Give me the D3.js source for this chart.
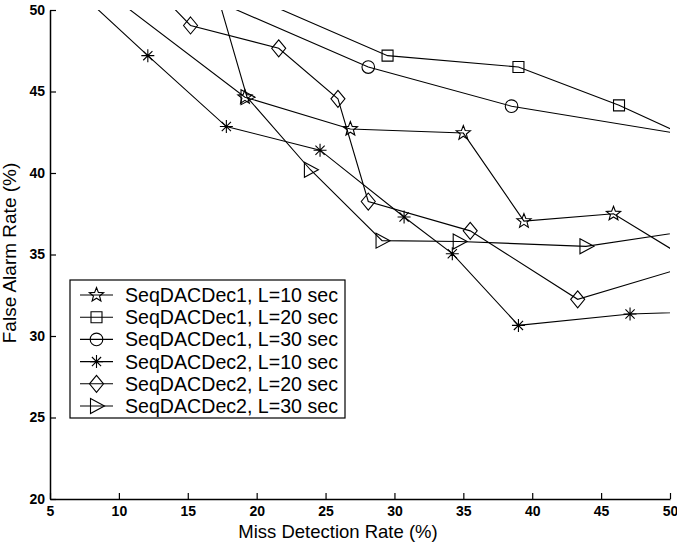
<!DOCTYPE html>
<html>
<head>
<meta charset="utf-8">
<script src="https://d3js.org/d3.v7.min.js"></script>
<style>
body { margin: 0; background: #fff; }
text { font-family: "Liberation Sans", Arial, sans-serif; fill: #000; }
.line { fill: none; stroke: #000; stroke-width: 1.1; }
.mark { fill: none; stroke: #000; stroke-width: 1.1; }
</style>
</head>
<body>
<svg width="677" height="544"></svg>
<script>
// series names
var names = ["SeqDACDec1, L=10 sec", "SeqDACDec1, L=20 sec", "SeqDACDec1, L=30 sec",
             "SeqDACDec2, L=10 sec", "SeqDACDec2, L=20 sec", "SeqDACDec2, L=30 sec"];
var markers = ["star", "square", "circle", "asterisk", "diamond", "triangle"];

// miss detection rate (%) per series (first/last points run off the axes)
var missDec1L10 = [6.0, 19.15, 26.8, 35.0, 39.4, 45.9, 55];
var missDec1L20 = [12.3, 29.5, 39.0, 46.3, 55];
var missDec1L30 = [12.3, 28.1, 38.5, 55];
var missDec2L10 = [5.7, 12.1, 17.8, 24.6, 30.7, 34.2, 39.0, 47.1, 55];
var missDec2L20 = [10.8, 15.2, 21.6, 25.9, 28.1, 35.5, 43.3, 55];
var missDec2L30 = [16.4, 19.3, 23.9, 29.1, 34.7, 43.9, 55];

// false alarm rate (%) per series
var faDec1L10 = [53.1, 44.65, 42.7, 42.45, 37.05, 37.5, 32.8];
var faDec1L20 = [53.5, 47.2, 46.5, 44.15, 40.8];
var faDec1L30 = [52.3, 46.5, 44.1, 41.8];
var faDec2L10 = [52.2, 47.2, 42.85, 41.4, 37.3, 35.05, 30.65, 31.35, 31.55];
var faDec2L20 = [52.9, 49.05, 47.65, 44.55, 38.25, 36.45, 32.25, 35.2];
var faDec2L30 = [53.1, 44.65, 40.2, 35.85, 35.8, 35.5, 36.9];

var xTicks = [5, 10, 15, 20, 25, 30, 35, 40, 45, 50];
var yTicks = [20, 25, 30, 35, 40, 45, 50];

var missData = [missDec1L10, missDec1L20, missDec1L30, missDec2L10, missDec2L20, missDec2L30];
var faData = [faDec1L10, faDec1L20, faDec1L30, faDec2L10, faDec2L20, faDec2L30];

var series = names.map(function(n, i) {
  return {
    name: n,
    marker: markers[i],
    points: missData[i].map(function(m, j) { return [m, faData[i][j]]; })
  };
});

var plotL = 50, plotR = 670, plotT = 10, plotB = 499;

var x = d3.scaleLinear().domain([5, 50]).range([plotL, plotR]);
var y = d3.scaleLinear().domain([20, 50]).range([plotB, plotT]);

var svg = d3.select("svg");

svg.append("clipPath").attr("id", "clip")
  .append("rect")
  .attr("x", plotL).attr("y", plotT)
  .attr("width", plotR - plotL).attr("height", plotB - plotT);

// marker shapes
function markerPath(type) {
  var p = d3.path();
  if (type == "star") {
    var R = 7.5, r = 3.2;
    for (var k = 0; k < 10; k++) {
      var a = -Math.PI / 2 + k * Math.PI / 5;
      var rr = k % 2 == 0 ? R : r;
      if (k == 0) p.moveTo(rr * Math.cos(a), rr * Math.sin(a));
      else p.lineTo(rr * Math.cos(a), rr * Math.sin(a));
    }
    p.closePath();
  } else if (type == "square") {
    p.rect(-5.5, -5.5, 11, 11);
  } else if (type == "circle") {
    p.moveTo(6.3, 0);
    p.arc(0, 0, 6.3, 0, 2 * Math.PI);
  } else if (type == "asterisk") {
    var s = 6.5, d = 4.6;
    p.moveTo(0, -s); p.lineTo(0, s);
    p.moveTo(-s, 0); p.lineTo(s, 0);
    p.moveTo(-d, -d); p.lineTo(d, d);
    p.moveTo(-d, d); p.lineTo(d, -d);
  } else if (type == "diamond") {
    p.moveTo(0, -8.5); p.lineTo(7, 0); p.lineTo(0, 8.5); p.lineTo(-7, 0);
    p.closePath();
  } else if (type == "triangle") {
    p.moveTo(-6, -7.5); p.lineTo(8, 0); p.lineTo(-6, 7.5);
    p.closePath();
  }
  return p.toString();
}

var plot = svg.append("g").attr("clip-path", "url(#clip)");

var line = d3.line()
  .x(function(d) { return x(d[0]); })
  .y(function(d) { return y(d[1]); });

series.forEach(function(s) {
  plot.append("path").attr("class", "line").attr("d", line(s.points));
  plot.selectAll(null)
    .data(s.points)
    .enter()
    .append("path")
    .attr("class", "mark")
    .attr("d", markerPath(s.marker))
    .attr("transform", function(d) { return "translate(" + x(d[0]) + "," + y(d[1]) + ")"; });
});

// axes
var xAxis = svg.append("g")
  .attr("transform", "translate(0," + plotB + ")")
  .call(d3.axisBottom(x).tickValues(xTicks).tickSizeInner(-6).tickSizeOuter(0).tickPadding(7));
var yAxis = svg.append("g")
  .attr("transform", "translate(" + plotL + ",0)")
  .call(d3.axisLeft(y).tickValues(yTicks).tickSizeInner(-6).tickSizeOuter(0).tickPadding(5));

[xAxis, yAxis].forEach(function(a) {
  a.select(".domain").attr("stroke", "#000").attr("stroke-width", 1.5);
  a.selectAll(".tick line").attr("stroke", "#000").attr("stroke-width", 1.2);
  a.selectAll(".tick text")
    .style("font-family", "'Liberation Sans', Arial, sans-serif")
    .style("font-size", "14px")
    .style("font-weight", "bold")
    .attr("fill", "#000");
});

svg.append("text")
  .attr("x", 338)
  .attr("y", 538)
  .attr("text-anchor", "middle")
  .style("font-size", "18.5px")
  .text("Miss Detection Rate (%)");

svg.append("text")
  .attr("transform", "translate(16,253) rotate(-90)")
  .attr("text-anchor", "middle")
  .style("font-size", "19px")
  .text("False Alarm Rate (%)");

// legend
var lg = svg.append("g");
lg.append("rect")
  .attr("x", 70).attr("y", 280)
  .attr("width", 275).attr("height", 138)
  .attr("fill", "#fff").attr("stroke", "#000").attr("stroke-width", 1.2);

var row = lg.selectAll(".row")
  .data(series)
  .enter()
  .append("g")
  .attr("transform", function(d, i) { return "translate(0," + (295 + i * 22.2) + ")"; });

row.append("line")
  .attr("x1", 80).attr("x2", 113)
  .attr("stroke", "#000").attr("stroke-width", 1.1);
row.append("path")
  .attr("class", "mark")
  .attr("d", function(d) { return markerPath(d.marker); })
  .attr("transform", "translate(96.5,0)");
row.append("text")
  .attr("x", 125)
  .attr("y", 7)
  .style("font-size", "19.6px")
  .text(function(d) { return d.name; });
</script>
</body>
</html>
